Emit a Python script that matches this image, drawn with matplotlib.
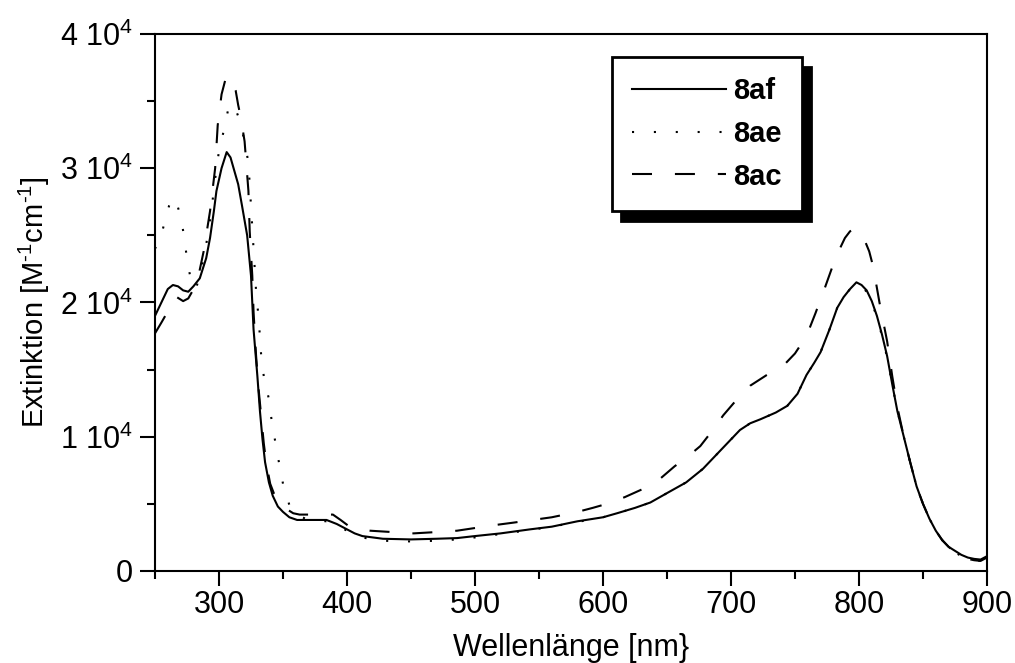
import matplotlib
matplotlib.use("Agg")
import matplotlib.pyplot as plt

plt.rcParams["font.family"] = ["Liberation Sans", "DejaVu Sans"]
plt.rcParams["mathtext.fontset"] = "custom"
plt.rcParams["mathtext.rm"] = "Liberation Sans"
plt.rcParams["mathtext.it"] = "Liberation Sans:italic"
plt.rcParams["mathtext.bf"] = "Liberation Sans:bold"

# --- spectra: wavelength [nm] and extinction [M^-1 cm^-1] ---
wl_8af = [250, 255, 260, 264, 268, 272, 276, 280, 285, 290, 293, 296, 298, 302,
          306, 309, 312, 315, 318, 322, 325, 327, 330, 332, 334, 336, 339, 342,
          346, 350, 355, 361, 370, 384, 392, 400, 406, 412, 420, 428, 450, 470,
          486, 500, 520, 543, 560, 580, 600, 611, 625, 637, 650, 665, 678, 690,
          700, 707, 715, 723, 735, 744, 752, 759, 765, 770, 777, 783, 788, 793,
          798, 802, 806, 810, 814, 818, 822, 826, 830, 835, 840, 845, 850, 855,
          860, 865, 870, 875, 880, 885, 890, 895, 900]
ext_8af = [19000, 20000, 21000, 21300, 21200, 20900, 20800, 21200, 21800, 23300,
           24800, 26800, 28300, 30000, 31200, 30800, 29800, 28800, 27200, 25000,
           22000, 18000, 14500, 11900, 9800, 8100, 6600, 5600, 4800, 4400, 4000,
           3800, 3800, 3800, 3500, 3100, 2800, 2600, 2500, 2400, 2350, 2400, 2450,
           2600, 2800, 3100, 3300, 3700, 4000, 4300, 4700, 5100, 5800, 6600, 7600,
           8800, 9800, 10500, 11000, 11300, 11800, 12300, 13200, 14600, 15500,
           16300, 18000, 19600, 20400, 21000, 21500, 21300, 20900, 20100, 19000,
           17600, 16000, 13900, 11900, 10000, 8100, 6300, 5000, 3900, 3000, 2300,
           1800, 1500, 1200, 1000, 900, 850, 1100]

wl_8ae = [250, 255, 258, 261, 264, 267, 270, 273, 275, 278, 282, 286, 290, 294,
          297, 300, 304, 307, 310, 313, 316, 320, 323, 325, 327, 329, 331, 333,
          335, 339, 341, 344, 347, 350, 355, 360, 370, 384, 392, 400, 406, 412,
          420, 428, 450, 470, 486, 500, 520, 543, 560, 580, 600, 611, 625, 637,
          650, 665, 678, 690, 700, 707, 715, 723, 735, 744, 752, 759, 765, 770,
          777, 783, 788, 793, 798, 802, 806, 810, 814, 818, 822, 826, 830, 835,
          840, 845, 850, 855, 860, 865, 870, 875, 880, 885, 890, 895, 900]
ext_8ae = [24000, 25000, 26200, 27200, 27800, 27400, 26400, 24800, 23200, 21700,
           21000, 22400, 24300, 26800, 29200, 31300, 32900, 34300, 34800, 34400,
           33600, 32000, 30400, 27200, 24000, 20800, 18800, 16000, 14500, 12800,
           11300, 9600, 8000, 6500, 4900, 4200, 3800, 3700, 3400, 3000, 2700, 2500,
           2350, 2250, 2200, 2250, 2350, 2500, 2750, 3050, 3300, 3650, 4000, 4300,
           4700, 5100, 5800, 6600, 7600, 8800, 9800, 10500, 11000, 11300, 11800,
           12300, 13200, 14600, 15500, 16300, 18000, 19600, 20400, 21000, 21400,
           21200, 20800, 20000, 18900, 17500, 15900, 13900, 11900, 10000, 8100,
           6300, 5000, 3900, 3000, 2300, 1800, 1400, 1100, 900, 800, 750, 1200]

wl_8ac = [250, 255, 258, 262, 267, 272, 276, 279, 284, 288, 293, 297, 299, 302,
          305, 307, 309, 311, 313, 315, 317, 320, 323, 324, 326, 327, 329, 331,
          333, 335, 337, 340, 344, 348, 353, 358, 363, 375, 389, 395, 402, 410,
          418, 435, 452, 470, 486, 500, 514, 530, 545, 560, 580, 592, 603, 617,
          631, 645, 656, 666, 676, 685, 694, 703, 715, 728, 741, 750, 759, 766,
          773, 779, 785, 789, 793, 797, 801, 805, 808, 811, 816, 822, 826, 830,
          835, 840, 845, 850, 855, 860, 865, 870, 875, 880, 885, 890, 895, 900]
ext_8ac = [17700, 18500, 19000, 19700, 20400, 20100, 20300, 20800, 22000, 23800,
           26800, 30000, 33200, 35500, 36600, 36900, 36700, 36300, 35800, 34700,
           33800, 32000, 28300, 25300, 22000, 19300, 16000, 13500, 11500, 9500,
           8000, 6500, 5500, 5000, 4600, 4300, 4200, 4200, 4200, 3800, 3300, 3100,
           3000, 2900, 2800, 2900, 3000, 3200, 3400, 3600, 3800, 4000, 4400, 4700,
           5000, 5500, 6100, 6900, 7800, 8500, 9300, 10400, 11600, 12600, 13800,
           14600, 15300, 16200, 17500, 19200, 21000, 22600, 24000, 24800, 25300,
           25500, 25200, 24500, 23800, 22700, 20000, 17100, 14500, 12200, 10000,
           8100, 6300, 5000, 3900, 3000, 2300, 1800, 1400, 1100, 900, 800, 750, 1000]

series_labels = ["8af", "8ae", "8ac"]
xticks = [300, 400, 500, 600, 700, 800, 900]
yticks = [0, 10000, 20000, 30000, 40000]
ytick_labels = ["0", "1 10$^4$", "2 10$^4$", "3 10$^4$", "4 10$^4$"]

fig = plt.figure(figsize=(10.15, 6.63), dpi=100)
ax = fig.add_axes([0.1527, 0.1388, 0.8197, 0.8100])

lw = 1.5
l1, = ax.plot(wl_8af, ext_8af, color="black", lw=lw, linestyle="-")
l2, = ax.plot(wl_8ae, ext_8ae, color="black", lw=lw, linestyle=(0, (1, 9.5)))
l3, = ax.plot(wl_8ac, ext_8ac, color="black", lw=lw, linestyle=(0, (9.6, 11)))

ax.set_xlim(250, 900)
ax.set_ylim(0, 40000)

ax.set_xticks(xticks)
ax.set_xticks(range(250, 901, 50), minor=True)
ax.set_yticks(yticks, labels=ytick_labels)
ax.set_yticks(range(0, 40001, 5000), minor=True)

ax.tick_params(which="both", direction="out", width=1.5, colors="black",
               top=False, right=False, labelsize=22)
ax.tick_params(which="major", length=10.8)
ax.tick_params(which="minor", length=5.8)
ax.tick_params(axis="y", pad=5)
ax.tick_params(axis="x", pad=3)

for sp in ax.spines.values():
    sp.set_linewidth(1.5)

ax.set_xlabel("Wellenlänge [nm}", fontsize=22, labelpad=9)
ax.set_ylabel("Extinktion [M$^{\\text{-}1}$cm$^{\\text{-}1}$]", fontsize=21, labelpad=6)

leg = ax.legend([l1, l2, l3], series_labels, loc="upper left",
                bbox_to_anchor=(0.549, 0.957), borderaxespad=0,
                prop={"weight": "bold", "size": 21},
                frameon=True, fancybox=False, framealpha=1,
                edgecolor="black", handlelength=3.2, handletextpad=0.25,
                borderpad=0.7, labelspacing=0.5,
                shadow={"ox": 6.5, "oy": -7.2, "facecolor": "black",
                        "edgecolor": "black", "alpha": 1})
leg.get_frame().set_linewidth(2)

fig.savefig("out.png", dpi=100)
